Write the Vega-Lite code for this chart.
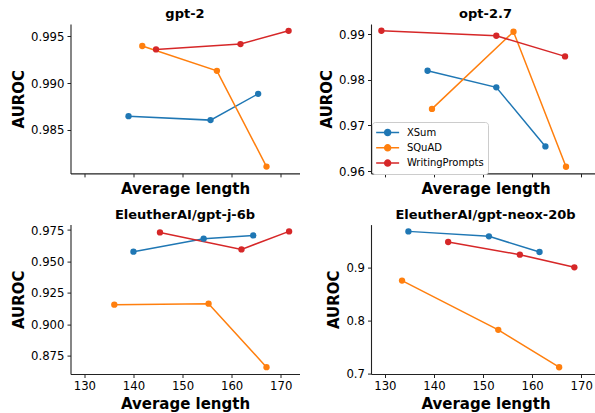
{
  "$schema": "https://vega.github.io/schema/vega-lite/v6.json",
  "padding": {"left": 11.5, "top": 8, "right": 0, "bottom": 2},
  "background": "white",
  "datasets": {
    "pts": [
      {"model": "gpt-2", "dataset": "XSum", "length": 139.0, "auroc": 0.98645},
      {"model": "gpt-2", "dataset": "XSum", "length": 155.7, "auroc": 0.98603},
      {"model": "gpt-2", "dataset": "XSum", "length": 165.4, "auroc": 0.98885},
      {"model": "gpt-2", "dataset": "SQuAD", "length": 141.8, "auroc": 0.99397},
      {"model": "gpt-2", "dataset": "SQuAD", "length": 157.0, "auroc": 0.99131},
      {"model": "gpt-2", "dataset": "SQuAD", "length": 167.1, "auroc": 0.98105},
      {"model": "gpt-2", "dataset": "WritingPrompts", "length": 144.6, "auroc": 0.99361},
      {"model": "gpt-2", "dataset": "WritingPrompts", "length": 161.8, "auroc": 0.99418},
      {"model": "gpt-2", "dataset": "WritingPrompts", "length": 171.6, "auroc": 0.99560},
      {"model": "opt-2.7", "dataset": "XSum", "length": 138.7, "auroc": 0.98197},
      {"model": "opt-2.7", "dataset": "XSum", "length": 152.7, "auroc": 0.97833},
      {"model": "opt-2.7", "dataset": "XSum", "length": 162.7, "auroc": 0.96541},
      {"model": "opt-2.7", "dataset": "SQuAD", "length": 139.6, "auroc": 0.97362},
      {"model": "opt-2.7", "dataset": "SQuAD", "length": 156.2, "auroc": 0.99050},
      {"model": "opt-2.7", "dataset": "SQuAD", "length": 166.9, "auroc": 0.96096},
      {"model": "opt-2.7", "dataset": "WritingPrompts", "length": 129.3, "auroc": 0.99072},
      {"model": "opt-2.7", "dataset": "WritingPrompts", "length": 152.7, "auroc": 0.98963},
      {"model": "opt-2.7", "dataset": "WritingPrompts", "length": 166.7, "auroc": 0.98511},
      {"model": "EleutherAI/gpt-j-6b", "dataset": "XSum", "length": 140.0, "auroc": 0.9578},
      {"model": "EleutherAI/gpt-j-6b", "dataset": "XSum", "length": 154.3, "auroc": 0.9681},
      {"model": "EleutherAI/gpt-j-6b", "dataset": "XSum", "length": 164.4, "auroc": 0.9707},
      {"model": "EleutherAI/gpt-j-6b", "dataset": "SQuAD", "length": 136.1, "auroc": 0.9157},
      {"model": "EleutherAI/gpt-j-6b", "dataset": "SQuAD", "length": 155.3, "auroc": 0.9165},
      {"model": "EleutherAI/gpt-j-6b", "dataset": "SQuAD", "length": 167.1, "auroc": 0.8660},
      {"model": "EleutherAI/gpt-j-6b", "dataset": "WritingPrompts", "length": 145.4, "auroc": 0.9731},
      {"model": "EleutherAI/gpt-j-6b", "dataset": "WritingPrompts", "length": 162.0, "auroc": 0.9596},
      {"model": "EleutherAI/gpt-j-6b", "dataset": "WritingPrompts", "length": 171.7, "auroc": 0.9739},
      {"model": "EleutherAI/gpt-neox-20b", "dataset": "XSum", "length": 134.8, "auroc": 0.9685},
      {"model": "EleutherAI/gpt-neox-20b", "dataset": "XSum", "length": 151.2, "auroc": 0.9591},
      {"model": "EleutherAI/gpt-neox-20b", "dataset": "XSum", "length": 161.5, "auroc": 0.9296},
      {"model": "EleutherAI/gpt-neox-20b", "dataset": "SQuAD", "length": 133.5, "auroc": 0.8755},
      {"model": "EleutherAI/gpt-neox-20b", "dataset": "SQuAD", "length": 153.1, "auroc": 0.7825},
      {"model": "EleutherAI/gpt-neox-20b", "dataset": "SQuAD", "length": 165.5, "auroc": 0.7119},
      {"model": "EleutherAI/gpt-neox-20b", "dataset": "WritingPrompts", "length": 142.9, "auroc": 0.9485},
      {"model": "EleutherAI/gpt-neox-20b", "dataset": "WritingPrompts", "length": 157.5, "auroc": 0.9245},
      {"model": "EleutherAI/gpt-neox-20b", "dataset": "WritingPrompts", "length": 168.6, "auroc": 0.9006}
    ]
  },
  "data": {"name": "pts"},
  "columns": 2,
  "spacing": {"row": 50.6, "column": 71.5},
  "bounds": "flush",
  "concat": [
    {
      "width": 229, "height": 149.4,
      "title": "gpt-2",
      "transform": [{"filter": "datum.model === 'gpt-2'"}],
      "encoding": {
        "x": {"field": "length", "type": "quantitative", "scale": {"domain": [127.18, 173.82], "nice": false, "zero": false}, "axis": {"values": [130, 140, 150, 160, 170], "labels": false, "title": "Average length"}},
        "y": {"field": "auroc", "type": "quantitative", "scale": {"domain": [0.98032, 0.99633], "nice": false, "zero": false}, "axis": {"values": [0.985, 0.99, 0.995], "format": ".3f", "title": "AUROC"}},
        "color": {"field": "dataset", "type": "nominal", "scale": {"domain": ["XSum", "SQuAD", "WritingPrompts"], "range": ["#1f77b4", "#ff7f0e", "#d62728"]}}
      },
      "layer": [
        {"mark": {"type": "line", "strokeWidth": 1.5}},
        {"mark": {"type": "circle", "size": 40, "opacity": 1}}
      ]
    },
    {
      "width": 229, "height": 149.4,
      "title": "opt-2.7",
      "transform": [{"filter": "datum.model === 'opt-2.7'"}],
      "encoding": {
        "x": {"field": "length", "type": "quantitative", "scale": {"domain": [127.18, 173.82], "nice": false, "zero": false}, "axis": {"values": [130, 140, 150, 160, 170], "labels": false, "title": "Average length"}},
        "y": {"field": "auroc", "type": "quantitative", "scale": {"domain": [0.9595, 0.9922], "nice": false, "zero": false}, "axis": {"values": [0.96, 0.97, 0.98, 0.99], "format": ".2f", "title": "AUROC"}},
        "color": {"field": "dataset", "type": "nominal", "scale": {"domain": ["XSum", "SQuAD", "WritingPrompts"], "range": ["#1f77b4", "#ff7f0e", "#d62728"]}}
      },
      "layer": [
        {"mark": {"type": "line", "strokeWidth": 1.5}},
        {"mark": {"type": "circle", "size": 40, "opacity": 1}}
      ]
    },
    {
      "width": 229, "height": 149.4,
      "title": "EleutherAI/gpt-j-6b",
      "transform": [{"filter": "datum.model === 'EleutherAI/gpt-j-6b'"}],
      "encoding": {
        "x": {"field": "length", "type": "quantitative", "scale": {"domain": [127.18, 173.82], "nice": false, "zero": false}, "axis": {"values": [130, 140, 150, 160, 170], "title": "Average length"}},
        "y": {"field": "auroc", "type": "quantitative", "scale": {"domain": [0.8606, 0.9793], "nice": false, "zero": false}, "axis": {"values": [0.875, 0.9, 0.925, 0.95, 0.975], "format": ".3f", "title": "AUROC"}},
        "color": {"field": "dataset", "type": "nominal", "scale": {"domain": ["XSum", "SQuAD", "WritingPrompts"], "range": ["#1f77b4", "#ff7f0e", "#d62728"]}}
      },
      "layer": [
        {"mark": {"type": "line", "strokeWidth": 1.5}},
        {"mark": {"type": "circle", "size": 40, "opacity": 1}}
      ]
    },
    {
      "width": 229, "height": 149.4,
      "title": "EleutherAI/gpt-neox-20b",
      "transform": [{"filter": "datum.model === 'EleutherAI/gpt-neox-20b'"}],
      "encoding": {
        "x": {"field": "length", "type": "quantitative", "scale": {"domain": [127.18, 173.82], "nice": false, "zero": false}, "axis": {"values": [130, 140, 150, 160, 170], "title": "Average length"}},
        "y": {"field": "auroc", "type": "quantitative", "scale": {"domain": [0.6991, 0.9813], "nice": false, "zero": false}, "axis": {"values": [0.7, 0.8, 0.9], "format": ".1f", "title": "AUROC"}},
        "color": {"field": "dataset", "type": "nominal", "scale": {"domain": ["XSum", "SQuAD", "WritingPrompts"], "range": ["#1f77b4", "#ff7f0e", "#d62728"]}}
      },
      "layer": [
        {"mark": {"type": "line", "strokeWidth": 1.5}},
        {"mark": {"type": "circle", "size": 40, "opacity": 1}}
      ]
    }
  ],
  "config": {
    "font": "DejaVu Sans",
    "view": {"stroke": null},
    "title": {"font": "DejaVu Sans", "fontSize": 13, "fontWeight": "bold", "color": "black", "offset": 3},
    "axis": {
      "grid": false,
      "domainColor": "#222222",
      "domainWidth": 1.1,
      "tickColor": "#222222",
      "tickWidth": 1,
      "tickSize": 3.5,
      "labelFont": "DejaVu Sans",
      "labelFontSize": 11.7,
      "labelColor": "black",
      "labelPadding": 3,
      "titleFont": "DejaVu Sans",
      "titleFontSize": 15,
      "titleFontWeight": "bold",
      "titleColor": "black",
      "titlePadding": 4
    },
    "legend": {
      "orient": "none",
      "legendX": 301.5,
      "legendY": 98,
      "title": null,
      "strokeColor": "#cccccc",
      "fillColor": "white",
      "cornerRadius": 3,
      "padding": 4,
      "labelFont": "DejaVu Sans",
      "labelFontSize": 10,
      "labelColor": "black",
      "labelOffset": 12.75,
      "symbolType": "M-2,0L2,0M-0.52,0A0.52,0.52,0,1,0,0.52,0A0.52,0.52,0,1,0,-0.52,0Z",
      "symbolSize": 132,
      "symbolOffset": 5.15,
      "symbolStrokeWidth": 1.5,
      "symbolOpacity": 1,
      "rowPadding": 2.3
    }
  }
}
